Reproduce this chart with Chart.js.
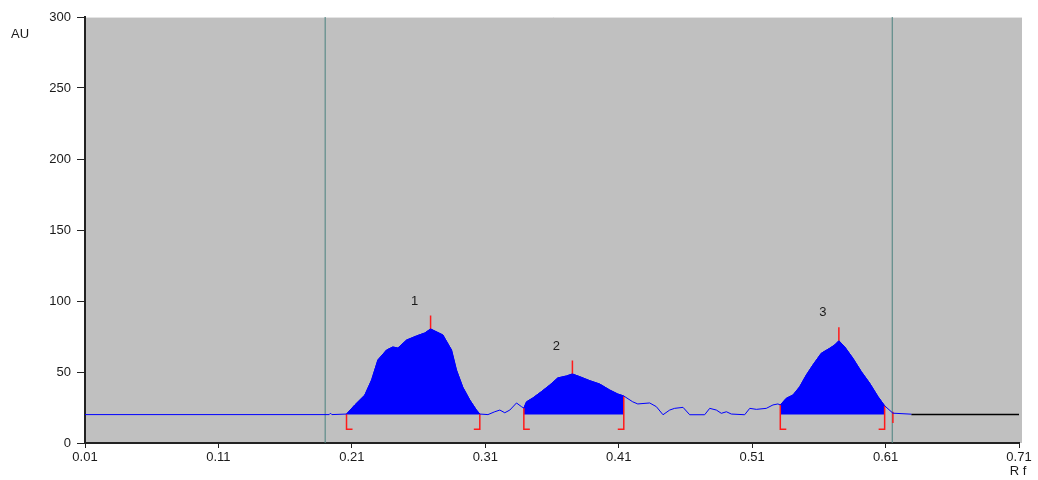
<!DOCTYPE html>
<html>
<head>
<meta charset="utf-8">
<script src="https://cdn.jsdelivr.net/npm/chart.js@4/dist/chart.umd.min.js"></script>
<style>
  body { margin: 0; background: #fff; }
  canvas { display: block; }
</style>
</head>
<body>
<canvas id="densito" width="1038" height="480"></canvas>
<script>
// densitogram trace (Rf, AU)
const rfVals = [0.010, 0.193, 0.194, 0.195, 0.206, 0.2122, 0.2197, 0.2248, 0.2295, 0.236, 0.2407, 0.2445, 0.251, 0.2585, 0.2647, 0.269, 0.2782, 0.2847, 0.2884, 0.2931, 0.2984, 0.3034, 0.3059, 0.312, 0.3171, 0.3209, 0.3246, 0.3284, 0.3334, 0.3371, 0.3389, 0.3409, 0.3456, 0.3521, 0.3583, 0.3643, 0.3708, 0.3753, 0.3808, 0.3883, 0.3958, 0.4033, 0.4093, 0.4138, 0.4205, 0.4243, 0.4332, 0.4382, 0.4432, 0.4482, 0.4519, 0.4582, 0.4632, 0.4744, 0.4782, 0.4832, 0.4869, 0.4907, 0.4944, 0.5044, 0.5082, 0.5132, 0.5206, 0.5256, 0.5293, 0.5311, 0.5356, 0.5406, 0.5456, 0.5506, 0.5555, 0.5618, 0.5681, 0.5718, 0.575, 0.5793, 0.5855, 0.5918, 0.5981, 0.6043, 0.6093, 0.6155, 0.6293];
const auVals = [20, 20, 21, 20, 20.4, 26.8, 33.8, 44.4, 58.5, 65.5, 67.6, 66.9, 72.5, 75.4, 77.5, 80.3, 76.1, 65.5, 51.4, 39.4, 30.3, 23.2, 20.4, 20, 22.0, 23.2, 21.3, 23.2, 28.2, 25.6, 24.6, 29.0, 31.7, 36.2, 40.8, 45.8, 47.2, 48.6, 46.7, 43.9, 41.5, 37.3, 34.5, 33.1, 29.0, 27.5, 28.2, 25.6, 19.9, 23.2, 24.4, 25.1, 19.9, 19.9, 24.4, 23.2, 20.9, 22.0, 20.4, 19.9, 24.4, 23.7, 24.4, 26.8, 27.5, 26.8, 31.5, 33.8, 39.6, 47.9, 54.9, 63.2, 66.7, 69.0, 72.0, 67.8, 59.7, 50.3, 42.1, 32.7, 26.2, 21.0, 20.3];

const baseline = 20;
const peakNames = ['1', '2', '3'];
const peakStart = [0.206, 0.3389, 0.5311];
const peakEnd = [0.3059, 0.4138, 0.6093];
const peakApexRf = [0.269, 0.3753, 0.575];
const peakApexAu = [80.3, 48.6, 72.0];

const frontLines = [0.19, 0.615];   // application / front lines
const xTicks = [0.01, 0.11, 0.21, 0.31, 0.41, 0.51, 0.61, 0.71];

const trace = rfVals.map((x, i) => ({ x: x, y: auVals[i] }));

function peakPoints(k) {
  return trace.filter(p => p.x >= peakStart[k] - 1e-6 && p.x <= peakEnd[k] + 1e-6);
}

// red integration markers: bracket at start/end, tick over apex
const markerPts = [];
const auAt = x => { const i = rfVals.indexOf(x); return i >= 0 ? auVals[i] : baseline; };
const brBottom = 9.7, stub = 0.0045, apexTick = 9.5;
for (let k = 0; k < peakNames.length; k++) {
  markerPts.push({ x: peakStart[k] + stub, y: brBottom }, { x: peakStart[k], y: brBottom }, { x: peakStart[k], y: Math.max(auAt(peakStart[k]), baseline) }, { x: null, y: null });
  markerPts.push({ x: peakEnd[k] - stub, y: brBottom }, { x: peakEnd[k], y: brBottom }, { x: peakEnd[k], y: Math.max(auAt(peakEnd[k]), baseline) }, { x: null, y: null });
  markerPts.push({ x: peakApexRf[k], y: peakApexAu[k] }, { x: peakApexRf[k], y: peakApexAu[k] + apexTick }, { x: null, y: null });
}
markerPts.push({ x: 0.6155, y: 22 }, { x: 0.6155, y: 14 });

const frontPts = [];
frontLines.forEach(x => frontPts.push({ x: x, y: 0 }, { x: x, y: 300 }, { x: null, y: null }));

const FONT = '"Liberation Sans", Arial, sans-serif';

const plotBg = {
  id: 'plotBg',
  beforeDraw(chart) {
    const { ctx, chartArea: a } = chart;
    ctx.save();
    ctx.fillStyle = '#c0c0c0';
    ctx.fillRect(a.left, a.top, a.right - a.left + 3, a.bottom - a.top);
    ctx.strokeStyle = '#e4e4e4';
    ctx.beginPath();
    ctx.moveTo(a.left, a.top + 0.5);
    ctx.lineTo(a.right + 3, a.top + 0.5);
    ctx.stroke();
    ctx.restore();
  },
  afterDraw(chart) {
    const { ctx, scales } = chart;
    ctx.save();
    ctx.fillStyle = '#1a1a1a';
    ctx.font = '13px ' + FONT;
    ctx.textAlign = 'center';
    ctx.textBaseline = 'middle';
    ctx.fillText('AU', 20, 34);
    ctx.fillText('R f', 1018, 471);
    peakNames.forEach((n, k) => {
      const px = scales.x.getPixelForValue(peakApexRf[k]);
      const py = scales.y.getPixelForValue(peakApexAu[k]);
      ctx.fillText(n, px - 16, py - 28);
    });
    ctx.restore();
  }
};

new Chart(document.getElementById('densito'), {
  type: 'line',
  data: {
    datasets: [
      { data: trace, borderColor: '#0000ff', borderWidth: 1, pointRadius: 0, fill: false },
      { data: [{ x: 0.6293, y: baseline }, { x: 0.71, y: baseline }], borderColor: '#000', borderWidth: 1.5, pointRadius: 0, fill: false },
      { data: markerPts, borderColor: '#ff1a1a', borderWidth: 1.5, pointRadius: 0, fill: false, spanGaps: false },
      { data: frontPts, borderColor: '#4a827e', borderWidth: 1, pointRadius: 0, fill: false, spanGaps: false },
      ...peakNames.map((n, k) => ({
        data: peakPoints(k), borderColor: '#0000ff', borderWidth: 1, pointRadius: 0,
        backgroundColor: '#0000ff', fill: { value: baseline }
      }))
    ]
  },
  plugins: [plotBg],
  options: {
    responsive: false,
    animation: false,
    layout: { padding: { top: 17, right: 19, left: 0, bottom: 0 } },
    plugins: { legend: { display: false }, tooltip: { enabled: false } },
    scales: {
      x: {
        type: 'linear', min: 0.01, max: 0.71,
        afterBuildTicks: s => { s.ticks = xTicks.map(v => ({ value: v })); },
        afterFit: s => { s.height = 37; },
        grid: { drawOnChartArea: false, drawTicks: true, tickLength: 5, color: '#222' },
        border: { display: true, color: '#222', width: 2 },
        ticks: { color: '#1a1a1a', padding: 2, font: { size: 13, family: FONT }, callback: v => v.toFixed(2), maxRotation: 0, autoSkip: false }
      },
      y: {
        min: 0, max: 300,
        afterFit: s => { s.width = 85; },
        grid: { drawOnChartArea: false, drawTicks: true, tickLength: 8, color: '#222' },
        border: { display: true, color: '#222', width: 2 },
        ticks: { stepSize: 50, color: '#1a1a1a', padding: 6, font: { size: 13, family: FONT } }
      }
    }
  }
});
</script>
</body>
</html>
